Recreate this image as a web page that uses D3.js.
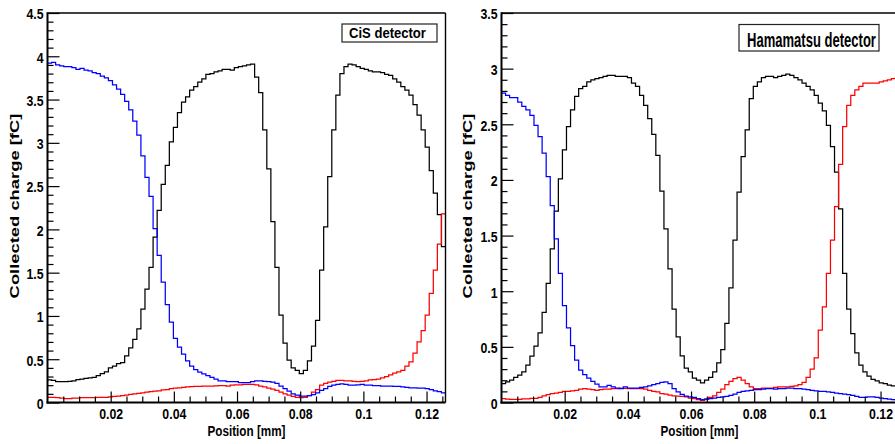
<!DOCTYPE html>
<html>
<head>
<meta charset="utf-8">
<script src="https://cdn.jsdelivr.net/npm/d3@7"></script>
<style>
html,body{margin:0;padding:0;background:#ffffff;}
svg{display:block;}
</style>
</head>
<body>
<svg id="chart" width="895" height="444"></svg>
<script>
// ---------------- DATA ----------------
const xDomain = [0, 0.126];
const nBins = 98;
const xTickValues = [0.02, 0.04, 0.06, 0.08, 0.1, 0.12];
const xTickLabels = ["0.02", "0.04", "0.06", "0.08", "0.1", "0.12"];
const cisYTickValues = [0, 0.5, 1, 1.5, 2, 2.5, 3, 3.5, 4, 4.5];
const cisYTickLabels = ["0", "0.5", "1", "1.5", "2", "2.5", "3", "3.5", "4", "4.5"];
const hamYTickValues = [0, 0.5, 1, 1.5, 2, 2.5, 3, 3.5];
const hamYTickLabels = ["0", "0.5", "1", "1.5", "2", "2.5", "3", "3.5"];
const xTitle = "Position [mm]";
const yTitle = "Collected charge [fC]";
const cisLabel = "CiS detector";
const hamLabel = "Hamamatsu detector";

// CiS detector: central strip (black), left neighbour (blue), right neighbour (red)
const cisBlack = [
 0.26,0.255,0.24,0.24,0.24,0.245,0.25,0.265,0.27,0.28,
 0.285,0.29,0.31,0.335,0.355,0.40,0.42,0.45,0.46,0.54,
 0.63,0.73,0.85,1.08,1.31,1.56,1.91,2.22,2.52,2.74,
 3.01,3.18,3.35,3.47,3.53,3.61,3.65,3.70,3.74,3.79,
 3.80,3.82,3.83,3.85,3.85,3.84,3.87,3.88,3.89,3.90,
 3.91,3.76,3.58,3.15,2.70,2.09,1.56,1.01,0.685,0.49,
 0.40,0.37,0.335,0.37,0.48,0.65,0.95,1.53,2.03,2.61,
 3.15,3.55,3.80,3.88,3.91,3.90,3.88,3.86,3.85,3.83,
 3.82,3.82,3.81,3.79,3.78,3.74,3.70,3.65,3.61,3.55,
 3.44,3.32,3.15,2.95,2.68,2.42,2.17,1.80
];
const cisBlue = [
 3.92,3.93,3.90,3.89,3.88,3.88,3.87,3.85,3.86,3.84,
 3.83,3.81,3.80,3.77,3.75,3.72,3.67,3.62,3.56,3.48,
 3.38,3.25,3.09,2.85,2.60,2.38,2.01,1.70,1.39,1.13,
 0.93,0.74,0.64,0.56,0.48,0.42,0.38,0.35,0.33,0.31,
 0.29,0.27,0.25,0.25,0.24,0.24,0.24,0.23,0.23,0.23,
 0.24,0.25,0.25,0.245,0.24,0.235,0.22,0.19,0.16,0.13,
 0.10,0.085,0.075,0.075,0.08,0.09,0.11,0.14,0.16,0.185,
 0.20,0.21,0.215,0.21,0.20,0.20,0.205,0.21,0.20,0.20,
 0.195,0.195,0.19,0.19,0.19,0.185,0.185,0.18,0.175,0.17,
 0.17,0.165,0.165,0.16,0.15,0.135,0.125,0.11
];
const cisRed = [
 0.06,0.06,0.055,0.05,0.045,0.045,0.05,0.05,0.055,0.055,
 0.055,0.055,0.058,0.058,0.06,0.065,0.072,0.075,0.08,0.085,
 0.095,0.10,0.105,0.11,0.12,0.125,0.13,0.135,0.145,0.15,
 0.16,0.165,0.17,0.175,0.18,0.182,0.185,0.185,0.188,0.19,
 0.19,0.192,0.195,0.195,0.19,0.20,0.205,0.205,0.21,0.21,
 0.21,0.205,0.19,0.18,0.165,0.155,0.14,0.12,0.10,0.085,
 0.07,0.06,0.055,0.06,0.08,0.12,0.15,0.20,0.22,0.235,
 0.245,0.255,0.255,0.25,0.25,0.245,0.24,0.245,0.25,0.26,
 0.265,0.27,0.285,0.30,0.32,0.34,0.355,0.37,0.42,0.47,
 0.57,0.70,0.83,1.01,1.26,1.53,1.83,2.18
];

// Hamamatsu detector
const hamBlack = [
 0.17,0.185,0.20,0.225,0.245,0.275,0.335,0.416,0.506,0.626,
 0.81,1.07,1.38,1.72,2.01,2.27,2.48,2.63,2.75,2.82,
 2.84,2.88,2.90,2.91,2.92,2.93,2.94,2.94,2.93,2.93,
 2.93,2.92,2.87,2.84,2.76,2.67,2.55,2.41,2.22,1.90,
 1.56,1.20,0.84,0.59,0.42,0.31,0.275,0.22,0.20,0.177,
 0.20,0.225,0.275,0.356,0.476,0.71,1.03,1.46,1.89,2.21,
 2.45,2.73,2.84,2.88,2.92,2.93,2.93,2.92,2.93,2.94,
 2.95,2.94,2.92,2.90,2.87,2.84,2.81,2.76,2.69,2.62,
 2.49,2.30,2.07,1.74,1.16,0.84,0.62,0.446,0.335,0.275,
 0.237,0.207,0.195,0.177,0.17,0.156,0.15,0.145
];
const hamBlue = [
 2.78,2.76,2.74,2.74,2.70,2.66,2.63,2.58,2.49,2.39,
 2.24,2.03,1.77,1.47,1.16,0.87,0.67,0.51,0.38,0.29,
 0.25,0.22,0.19,0.165,0.14,0.14,0.155,0.14,0.13,0.125,
 0.14,0.13,0.13,0.13,0.135,0.14,0.15,0.16,0.17,0.18,
 0.185,0.17,0.125,0.096,0.072,0.057,0.05,0.045,0.035,0.025,
 0.03,0.035,0.04,0.045,0.05,0.055,0.065,0.075,0.09,0.10,
 0.105,0.11,0.115,0.115,0.12,0.125,0.125,0.12,0.125,0.125,
 0.13,0.13,0.125,0.125,0.12,0.115,0.11,0.105,0.10,0.10,
 0.095,0.09,0.085,0.08,0.075,0.07,0.065,0.055,0.045,0.045,
 0.05,0.05,0.045,0.04,0.035,0.03,0.025,0.02
];
const hamRed = [
 0.035,0.03,0.027,0.027,0.028,0.033,0.033,0.036,0.036,0.045,
 0.06,0.07,0.08,0.085,0.09,0.10,0.10,0.105,0.11,0.12,
 0.125,0.12,0.115,0.11,0.115,0.12,0.12,0.125,0.125,0.13,
 0.128,0.125,0.125,0.125,0.125,0.12,0.11,0.10,0.095,0.08,
 0.075,0.066,0.06,0.057,0.055,0.05,0.04,0.035,0.025,0.02,
 0.03,0.045,0.06,0.09,0.12,0.16,0.19,0.215,0.225,0.20,
 0.17,0.14,0.125,0.125,0.13,0.13,0.13,0.135,0.14,0.14,
 0.14,0.145,0.15,0.16,0.18,0.225,0.30,0.40,0.65,0.86,
 1.16,1.46,1.76,2.14,2.48,2.67,2.76,2.81,2.84,2.87,
 2.87,2.87,2.87,2.88,2.89,2.90,2.91,2.92
];

// ---------------- DRAWING ----------------
const svg = d3.select("#chart");
const FONT = "'Liberation Sans', Arial, Helvetica, sans-serif";
const edges = d3.range(nBins + 1).map(i => xDomain[0] + i * (xDomain[1] - xDomain[0]) / nBins);

// place a text and stretch/compress it along its own direction to a target length
function fittedText(parent, str, fs, tx, ty, rot, targetLen, anchor) {
  const grp = parent.append("g").attr("transform", `translate(${tx},${ty}) rotate(${rot})`);
  const t = grp.append("text")
    .attr("x", 0).attr("y", 0)
    .attr("text-anchor", anchor)
    .attr("font-family", FONT).attr("font-weight", "bold").attr("font-size", fs)
    .attr("fill", "#000")
    .text(str);
  const natural = t.node().getComputedTextLength() || targetLen;
  t.attr("transform", `scale(${targetLen / natural},1)`);
  return t;
}

const panels = [
  { id: "cis", x0: 47.5, x1: 445.5, yTop: 13, yBot: 402.5, yMax: 4.5,
    yTicks: cisYTickValues, yLabels: cisYTickLabels,
    series: [{v: cisBlack, c: "#000000"}, {v: cisRed, c: "#ff0000"}, {v: cisBlue, c: "#0000ff"}],
    yTitleX: 18.5, label: cisLabel,
    box: {x: 342, y: 24, w: 95, h: 18}, lab: {x: 349, y: 37.5, fs: 14, len: 77} },
  { id: "ham", x0: 501.5, x1: 899.5, yTop: 13, yBot: 402.5, yMax: 3.5,
    yTicks: hamYTickValues, yLabels: hamYTickLabels,
    series: [{v: hamBlack, c: "#000000"}, {v: hamRed, c: "#ff0000"}, {v: hamBlue, c: "#0000ff"}],
    yTitleX: 472, label: hamLabel,
    box: {x: 739, y: 24.5, w: 140, h: 26.5}, lab: {x: 747, y: 46.5, fs: 19.5, len: 129} }
];

const defs = svg.append("defs");

panels.forEach(p => {
  const x = d3.scaleLinear().domain(xDomain).range([p.x0, p.x1]);
  const y = d3.scaleLinear().domain([0, p.yMax]).range([p.yBot, p.yTop]);

  defs.append("clipPath").attr("id", "clip-" + p.id)
    .append("rect").attr("x", p.x0).attr("y", p.yTop)
    .attr("width", p.x1 - p.x0).attr("height", p.yBot - p.yTop);

  const g = svg.append("g");
  const line = d3.line();

  // histograms
  p.series.forEach(s => {
    const pts = [];
    s.v.forEach((val, i) => {
      pts.push([x(edges[i]), y(val)]);
      pts.push([x(edges[i + 1]), y(val)]);
    });
    g.append("path")
      .attr("d", line(pts))
      .attr("fill", "none")
      .attr("stroke", s.c)
      .attr("stroke-width", 1.25)
      .attr("clip-path", `url(#clip-${p.id})`);
  });

  // frame: top and right
  g.append("line").attr("x1", p.x0).attr("x2", p.x1).attr("y1", p.yTop).attr("y2", p.yTop)
    .attr("stroke", "#000").attr("stroke-width", 1.6);
  g.append("line").attr("x1", p.x1).attr("x2", p.x1).attr("y1", p.yTop).attr("y2", p.yBot)
    .attr("stroke", "#000").attr("stroke-width", 1.4);

  // y minor ticks
  const yMinor = d3.range(0, Math.round(p.yMax * 10) + 1).map(k => k / 10)
    .filter(v => Math.abs(v * 2 - Math.round(v * 2)) > 1e-6);
  g.append("g").attr("transform", `translate(${p.x0},0)`)
    .call(d3.axisLeft(y).tickValues(yMinor).tickSize(-6).tickFormat(""))
    .call(a => a.select(".domain").remove())
    .selectAll("line").attr("stroke-width", 1.2);

  // y major ticks + labels
  const ya = g.append("g").attr("transform", `translate(${p.x0},0)`)
    .call(d3.axisLeft(y).tickValues(p.yTicks).tickSize(-12).tickPadding(5)
      .tickFormat((d, i) => p.yLabels[i]));
  ya.select(".domain").remove();
  ya.selectAll("line").attr("stroke-width", 1.2);
  ya.selectAll("text")
    .attr("transform", "scale(0.8,1)")
    .attr("dy", "0.38em")
    .attr("font-family", FONT).attr("font-weight", "bold").attr("font-size", 15.4)
    .attr("fill", "#000");

  // x minor ticks
  const xMinor = d3.range(1, 26).map(k => k * 0.005)
    .filter(v => Math.abs(v / 0.02 - Math.round(v / 0.02)) > 1e-6);
  g.append("g").attr("transform", `translate(0,${p.yBot})`)
    .call(d3.axisBottom(x).tickValues(xMinor).tickSize(-6).tickFormat(""))
    .call(a => a.select(".domain").remove())
    .selectAll("line").attr("stroke-width", 1.2);

  // x major ticks + labels
  const xa = g.append("g").attr("transform", `translate(0,${p.yBot})`)
    .call(d3.axisBottom(x).tickValues(xTickValues).tickSize(-11).tickPadding(6)
      .tickFormat((d, i) => xTickLabels[i]));
  xa.select(".domain").remove();
  xa.selectAll("line").attr("stroke-width", 1.2);
  xa.selectAll("text")
    .attr("transform", "scale(0.8,1)")
    .attr("font-family", FONT).attr("font-weight", "bold").attr("font-size", 15.4)
    .attr("fill", "#000");
  xa.selectAll(".tick text").each(function() { d3.select(this).attr("x", 0); });

  // axis lines (left and bottom)
  g.append("line").attr("x1", p.x0).attr("x2", p.x0).attr("y1", p.yTop - 0.8).attr("y2", p.yBot + 1)
    .attr("stroke", "#000").attr("stroke-width", 2);
  g.append("line").attr("x1", p.x0 - 1).attr("x2", p.x1).attr("y1", p.yBot).attr("y2", p.yBot)
    .attr("stroke", "#000").attr("stroke-width", 2);

  // x title
  fittedText(g, xTitle, 15.5, (p.x0 + p.x1) / 2 - (p.id === "ham" ? 1 : 0), 436, 0, 78, "middle");

  // y title
  fittedText(g, yTitle, 12.3, p.yTitleX, 206, -90, 185, "middle");

  // label box
  g.append("rect").attr("x", p.box.x).attr("y", p.box.y).attr("width", p.box.w).attr("height", p.box.h)
    .attr("fill", "#fff").attr("stroke", "#222").attr("stroke-width", 1.2);
  fittedText(g, p.label, p.lab.fs, p.lab.x, p.lab.y, 0, p.lab.len, "start");
});
</script>
</body>
</html>
